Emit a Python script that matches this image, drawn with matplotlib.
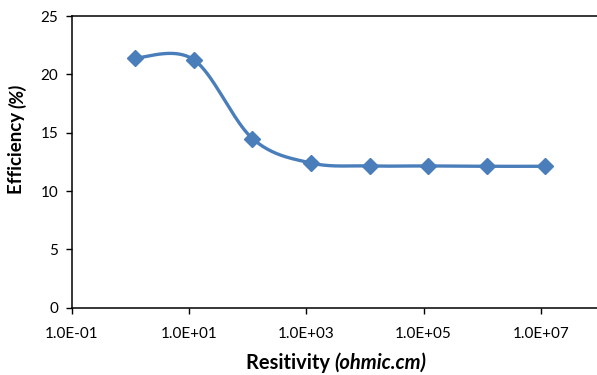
import numpy as np
import matplotlib
matplotlib.use("Agg")
import matplotlib.pyplot as plt

resistivity = [1.2, 12, 120, 1.2e3, 1.2e4, 1.2e5, 1.2e6, 1.2e7]
efficiency = [21.4, 21.25, 14.5, 12.4, 12.15, 12.15, 12.12, 12.12]
xtick_vals = [1e-1, 1e1, 1e3, 1e5, 1e7]
xtick_labels = ["1.0E-01", "1.0E+01", "1.0E+03", "1.0E+05", "1.0E+07"]
ytick_vals = [0, 5, 10, 15, 20, 25]

plt.rcParams['font.family'] = ['Lato', 'DejaVu Sans']
blue = "#4a7ebb"


def smooth(xs, ys, n=40):
    # excel-like smoothed line: catmull-rom bezier in (log x, y)
    p = np.column_stack([np.log10(xs), ys])
    p = np.vstack([p[0], p, p[-1]])
    out = []
    for i in range(1, len(p) - 2):
        p0, p1, p2, p3 = p[i - 1], p[i], p[i + 1], p[i + 2]
        c1 = p1 + (p2 - p0) / 6
        c2 = p2 - (p3 - p1) / 6
        t = np.linspace(0, 1, n)[:, None]
        seg = ((1 - t) ** 3 * p1 + 3 * (1 - t) ** 2 * t * c1
               + 3 * (1 - t) * t ** 2 * c2 + t ** 3 * p2)
        out.append(seg)
    out = np.vstack(out)
    return 10 ** out[:, 0], out[:, 1]


fig = plt.figure(figsize=(5.97, 3.75), dpi=100)
ax = fig.add_axes([72 / 597, 1 - 307.7 / 375, 1 - 72 / 597, (307.7 - 16) / 375])

sx, sy = smooth(resistivity, efficiency)
ax.plot(sx, sy, color=blue, lw=2.4, solid_capstyle='round')
ax.plot(resistivity, efficiency, 'D', color=blue, ms=8, mec=blue)

ax.set_xscale('log')
ax.set_xlim(0.1, 10 ** 7.96)
ax.set_ylim(0, 25)
ax.set_xticks(xtick_vals)
ax.set_xticklabels(xtick_labels)
ax.xaxis.set_minor_locator(plt.NullLocator())
ax.set_yticks(ytick_vals)
ax.tick_params(direction='out', length=4, width=1, labelsize=11)
ax.tick_params(axis='x', pad=10)
ax.tick_params(axis='y', pad=6)
ax.spines['right'].set_visible(False)
for s in ['left', 'bottom', 'top']:
    ax.spines[s].set_linewidth(1.1)

# axis titles with a bold-italic unit part
fs = 14.5
t1 = fig.text(0, 0, "Resitivity ", weight='bold', fontsize=fs)
t2 = fig.text(0, 0, "(ohmic.cm)", weight='bold', style='italic', fontsize=fs)
fig.canvas.draw()
r = fig.canvas.get_renderer()
w1 = t1.get_window_extent(r).width
w2 = t2.get_window_extent(r).width
x0 = 336 - (w1 + w2) / 2
t1.set_position((x0 / 597, 1 - 369 / 375))
t2.set_position(((x0 + w1) / 597, 1 - 369 / 375))

u1 = fig.text(0, 0, "Efficiency ", weight='bold', fontsize=13.5, rotation=90)
u2 = fig.text(0, 0, "(%)", weight='bold', style='italic', fontsize=13.5, rotation=90)
fig.canvas.draw()
h1 = u1.get_window_extent(r).height
h2 = u2.get_window_extent(r).height
y0 = 136 + (h1 + h2) / 2
u1.set_position((8 / 597, 1 - y0 / 375))
u2.set_position((8 / 597, 1 - (y0 - h1) / 375))

fig.savefig("out.png", dpi=100)
